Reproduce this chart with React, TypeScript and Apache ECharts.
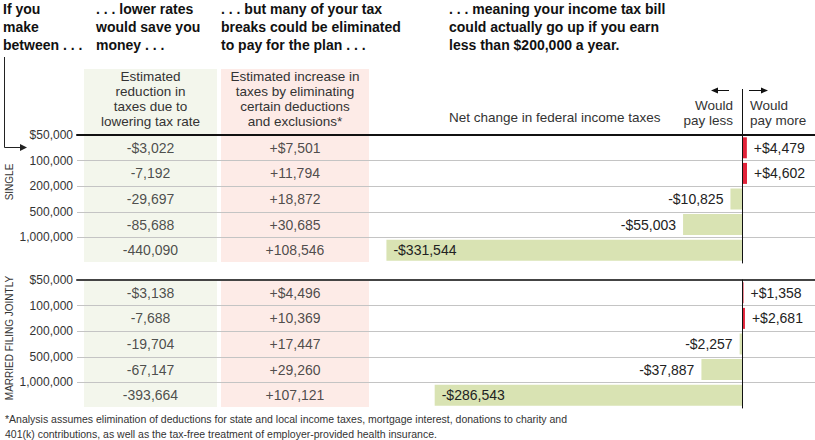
import React, { useEffect, useRef } from "react";
import * as echarts from "echarts";

const rowKeys = ["r1", "r2", "r3", "r4", "r5"];
const incomeTicks = ["$50,000", "100,000", "200,000", "500,000", "1,000,000"];

const singleRateCut = [-3022, -7192, -29697, -85688, -440090];
const singleBreaks = [7501, 11794, 18872, 30685, 108546];
const singleNet = [4479, 4602, -10825, -55003, -331544];

const marriedRateCut = [-3138, -7688, -19704, -67147, -393664];
const marriedBreaks = [4496, 10369, 17447, 29260, 107121];
const marriedNet = [1358, 2681, -2257, -37887, -286543];

const FONT = "Liberation Sans";
const GREEN_BG = "#f3f6ec";
const RED_BG = "#fdebe7";
const GREEN_BAR = "#d9e3b3";
const RED_BAR = "#e2233a";

function fmt(v: number, dollar: boolean) {
  const sign = v < 0 ? "-" : "+";
  return sign + (dollar ? "$" : "") + Math.abs(v).toLocaleString("en-US");
}

export default function App() {
  const ref = useRef<HTMLDivElement>(null);
  useEffect(() => {
    if (!ref.current) return;
    const chart = echarts.init(ref.current, undefined, { renderer: "svg" });

    const panels = [
      { top: 135, rate: singleRateCut, brk: singleBreaks, net: singleNet, lineColor: "#111" },
      { top: 280, rate: marriedRateCut, brk: marriedBreaks, net: marriedNet, lineColor: "#444" },
    ];
    const H = 128;

    const grid: any[] = [];
    const xAxis: any[] = [];
    const yAxis: any[] = [];
    const series: any[] = [];

    panels.forEach((p) => {
      const gi = grid.length;
      grid.push({ left: 77, width: 738, top: p.top, height: H });
      const xi = xAxis.length;
      xAxis.push({
        type: "value",
        gridIndex: gi,
        min: -620000,
        max: 68000,
        position: "top",
        axisLine: { show: true, onZero: false, lineStyle: { color: p.lineColor, width: 2 } },
        axisTick: { show: false },
        axisLabel: { show: false },
        splitLine: { show: false },
      });
      const yCat = yAxis.length;
      yAxis.push({
        type: "category",
        gridIndex: gi,
        data: rowKeys,
        inverse: true,
        position: "left",
        axisLine: { show: true, onZero: true, lineStyle: { color: "#111", width: 1 } },
        axisTick: { show: false },
        axisLabel: { show: false },
        splitLine: { show: false },
        z: 5,
      });
      yAxis.push({
        type: "value",
        gridIndex: gi,
        min: 0,
        max: 5,
        interval: 1,
        inverse: true,
        position: "left",
        axisLine: { show: false },
        axisTick: { show: false },
        axisLabel: {
          show: true,
          margin: 4,
          fontSize: 12,
          color: "#333",
          fontFamily: FONT,
          formatter: (v: number) => incomeTicks[v] ?? "",
        },
        splitLine: {
          show: true,
          showMinLine: false,
          showMaxLine: false,
          lineStyle: { color: "#c4c4c4", width: 1 },
        },
      });
      series.push({
        type: "bar",
        xAxisIndex: xi,
        yAxisIndex: yCat,
        barWidth: 21,
        z: 3,
        data: p.net.map((v) => ({
          value: v,
          itemStyle: { color: v > 0 ? RED_BAR : GREEN_BAR },
          label: {
            show: true,
            position: v > 0 ? "right" : Math.abs(v) > 200000 ? "insideLeft" : "left",
            distance: 7,
            formatter: fmt(v, true),
            fontSize: 14,
            color: "#222",
            fontFamily: FONT,
          },
        })),
      });

      const cols = [
        { left: 84, width: 133, vals: p.rate },
        { left: 221, width: 148, vals: p.brk },
      ];
      cols.forEach((c) => {
        const g = grid.length;
        grid.push({ left: c.left, width: c.width, top: p.top, height: H });
        const x = xAxis.length;
        xAxis.push({ type: "value", gridIndex: g, min: 0, max: 1, show: false });
        const y = yAxis.length;
        yAxis.push({ type: "category", gridIndex: g, data: rowKeys, inverse: true, show: false });
        series.push({
          type: "scatter",
          xAxisIndex: x,
          yAxisIndex: y,
          symbolSize: 1,
          itemStyle: { color: "transparent" },
          z: 4,
          data: c.vals.map((v, i) => ({
            value: [0.5, i],
            label: {
              show: true,
              position: "inside",
              formatter: fmt(v, i === 0),
              fontSize: 14,
              color: "#222",
              fontFamily: FONT,
            },
          })),
        });
      });
    });

    const t = (x: number, y: number, text: string, extra: any = {}) => ({
      type: "text",
      x,
      y,
      z: 10,
      style: {
        text,
        fill: "#222",
        fontFamily: FONT,
        fontSize: 14,
        ...extra,
      },
    });

    const head = { fontWeight: "bold", fill: "#111", fontSize: 14, lineHeight: 17.8, verticalAlign: "top" };
    const sub = { fontSize: 13.5, lineHeight: 15, align: "center", verticalAlign: "top", fill: "#333" };

    const graphic: any[] = [
      { type: "rect", z: -10, shape: { x: 84, y: 69, width: 133, height: 193 }, style: { fill: GREEN_BG } },
      { type: "rect", z: -10, shape: { x: 221, y: 69, width: 148, height: 193 }, style: { fill: RED_BG } },
      { type: "rect", z: -10, shape: { x: 84, y: 281, width: 133, height: 126 }, style: { fill: GREEN_BG } },
      { type: "rect", z: -10, shape: { x: 221, y: 281, width: 148, height: 126 }, style: { fill: RED_BG } },
      t(3, 0.5, "If you\nmake\nbetween . . .", head),
      t(96, 0.5, ". . . lower rates\nwould save you\nmoney . . .", head),
      t(221, 0.5, ". . . but many of your tax\nbreaks could be eliminated\nto pay for the plan . . .", head),
      t(449, 0.5, ". . . meaning your income tax bill\ncould actually go up if you earn\nless than $200,000 a year.", head),
      t(150.5, 69, "Estimated\nreduction in\ntaxes due to\nlowering tax rate", sub),
      t(295, 69, "Estimated increase in\ntaxes by eliminating\ncertain deductions\nand exclusions*", sub),
      t(449, 117, "Net change in federal income taxes", { fontSize: 13.5, verticalAlign: "middle", fill: "#333" }),
      t(733, 98, "Would\npay less", { fontSize: 13.5, lineHeight: 15, align: "right", verticalAlign: "top", fill: "#333" }),
      t(750, 98, "Would\npay more", { fontSize: 13.5, lineHeight: 15, align: "left", verticalAlign: "top", fill: "#333" }),
      {
        type: "text",
        x: 9,
        y: 182,
        rotation: Math.PI / 2,
        z: 10,
        style: { text: "SINGLE", fontSize: 10, fontFamily: FONT, fill: "#333", align: "center", verticalAlign: "middle" },
      },
      {
        type: "text",
        x: 9,
        y: 338,
        rotation: Math.PI / 2,
        z: 10,
        style: {
          text: "MARRIED FILING JOINTLY",
          fontSize: 10,
          fontFamily: FONT,
          fill: "#333",
          align: "center",
          verticalAlign: "middle",
        },
      },
      t(
        5,
        412,
        "*Analysis assumes elimination of deductions for state and local income taxes, mortgage interest, donations to charity and\n401(k) contributions, as well as the tax-free treatment of employer-provided health insurance.",
        { fontSize: 10.5, lineHeight: 14.5, verticalAlign: "top", fill: "#333" }
      ),
      { type: "polyline", z: 10, shape: { points: [[4.5, 57], [4.5, 147.5], [22, 147.5]] }, style: { stroke: "#222", lineWidth: 1, fill: "none" } },
      { type: "polygon", z: 10, shape: { points: [[20, 144], [27, 147.5], [20, 151]] }, style: { fill: "#222" } },
      { type: "line", z: 10, shape: { x1: 742.5, y1: 89, x2: 742.5, y2: 135 }, style: { stroke: "#111", lineWidth: 1 } },
      { type: "line", z: 10, shape: { x1: 716, y1: 90.5, x2: 729, y2: 90.5 }, style: { stroke: "#111", lineWidth: 1 } },
      { type: "polygon", z: 10, shape: { points: [[711, 90.5], [718, 87.5], [718, 93.5]] }, style: { fill: "#111" } },
      { type: "line", z: 10, shape: { x1: 749, y1: 90.5, x2: 763, y2: 90.5 }, style: { stroke: "#111", lineWidth: 1 } },
      { type: "polygon", z: 10, shape: { points: [[768, 90.5], [761, 87.5], [761, 93.5]] }, style: { fill: "#111" } },
    ];

    chart.setOption({
      animation: false,
      textStyle: { fontFamily: FONT },
      grid,
      xAxis,
      yAxis,
      series,
      graphic,
    });
    return () => chart.dispose();
  }, []);

  return <div ref={ref} style={{ width: 815, height: 440, position: "absolute", left: 0, top: 0 }} />;
}
